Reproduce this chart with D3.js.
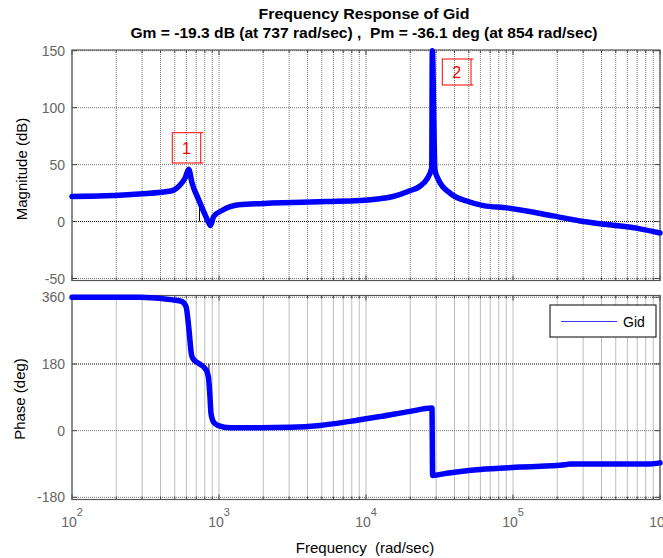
<!DOCTYPE html>
<html><head><meta charset="utf-8">
<script src="https://cdn.jsdelivr.net/npm/d3@7"></script>
<style>
html,body{margin:0;padding:0;background:#fff;}
svg{display:block;font-family:"Liberation Sans",Arial,sans-serif;}
text{white-space:pre;}
</style></head>
<body><svg id="c" width="663" height="558"></svg>
<script>
// ---- data ----
const magFreq = [100,168,286,479,532,590,622,655,728,803,859,875,920,1048,1361,2295,3187,5430,9110,15270,19900,23290,25880,28000,28250,29460,31020,37260,48400,62800,91000,187000,285700,435700,731000,1000000];
const magDb   = [22,22.6,24.2,27,30.9,38.5,46,34,19,6,-2,-3.5,4.4,9.7,14.7,16.2,16.8,17.6,18.5,22,27,31,37,47,150,45,37,25,18,14,12,5,0.5,-2.6,-6.4,-10];
const phFreq = [100,290,486,557,597,625,650,669,723,803,835,850,868,882,915,989,1188,1900,3040,4870,7780,12450,19900,28100,28400,35580,59700,111600,225900,244300,855000,1000000];
const phDeg  = [360,360,353,349,335,272,205,193,182,168,155,140,92,47,24,13.5,8,8,9,14,25,38,52,61,-121,-115,-105,-98.5,-92,-90,-90,-87];
const magTicks = [150,100,50,0,-50];
const phTicks = [360,180,0,-180];
const xDecades = [2,3,4,5,6];
const gmFreq = 737, gmDb = 19.3;
const pmFreq = 854, pmPhase = 143.9;
const titleLines = ["Frequency Response of Gid","Gm = -19.3 dB (at 737 rad/sec) ,  Pm = -36.1 deg (at 854 rad/sec)"];
const annotations = [{label:"1", f:[481,751], db:[51.4,78]}, {label:"2", f:[33040,51800], db:[119.9,142.7]}];
const legendLabel = "Gid";

// ---- layout ----
const svg = d3.select("#c");
const L = 72, R = 660;
const x = d3.scaleLog().domain([1e2,1e6]).range([L,R]);
const yM = d3.scaleLinear().domain([-50,150]).range([278.5,50.7]);
const yP = d3.scaleLinear().domain([-180,360]).range([497.3,297.3]);
const panels = [
  {y:yM, top:50, bot:280.5, ticks:magTicks, dark:0},
  {y:yP, top:295.5, bot:499.5, ticks:phTicks, dark:180}
];
const gridF = [];
for (let k=2;k<6;k++) for (let m=1;m<10;m++) gridF.push(m*Math.pow(10,k));
gridF.push(1e6);

panels.forEach(p=>{
  const g = svg.append("g");
  g.selectAll(".vg").data(gridF).join("line")
    .attr("x1",d=>x(d)).attr("x2",d=>x(d)).attr("y1",p.top).attr("y2",p.bot)
    .attr("stroke","#7a7a7a").attr("stroke-width",1).attr("stroke-dasharray","1,1");
  g.selectAll(".hg").data(p.ticks).join("line")
    .attr("x1",L).attr("x2",R).attr("y1",d=>p.y(d)).attr("y2",d=>p.y(d))
    .attr("stroke",d=>d===p.dark?"#000":"#7a7a7a").attr("stroke-width",1).attr("stroke-dasharray","1,1");
  g.selectAll(".tt").data(gridF).join("line")
    .attr("x1",d=>x(d)).attr("x2",d=>x(d)).attr("y1",p.top)
    .attr("y2",d=>p.top+(Math.abs(Math.log10(d)%1)<1e-9?5:3)).attr("stroke","#444");
  g.selectAll(".tb").data(gridF).join("line")
    .attr("x1",d=>x(d)).attr("x2",d=>x(d)).attr("y1",p.bot)
    .attr("y2",d=>p.bot-(Math.abs(Math.log10(d)%1)<1e-9?5:3)).attr("stroke","#444");
  g.selectAll(".tl").data(p.ticks).join("line")
    .attr("x1",L).attr("x2",L+5).attr("y1",d=>p.y(d)).attr("y2",d=>p.y(d)).attr("stroke","#444");
  g.selectAll(".tr").data(p.ticks).join("line")
    .attr("x1",R).attr("x2",R-5).attr("y1",d=>p.y(d)).attr("y2",d=>p.y(d)).attr("stroke","#444");
  g.append("rect").attr("x",L).attr("y",p.top).attr("width",R-L).attr("height",p.bot-p.top)
    .attr("fill","none").attr("stroke","#555").attr("stroke-width",1.2);
  g.selectAll(".yl").data(p.ticks).join("text")
    .attr("x",65).attr("y",d=>p.y(d)+5).attr("text-anchor","end")
    .attr("font-size",14).attr("fill","#666").text(d=>d);
});

// x tick labels
xDecades.forEach(k=>{
  const t = svg.append("text").attr("x",x(Math.pow(10,k))).attr("y",527)
    .attr("text-anchor","middle").attr("font-size",14).attr("fill","#666");
  t.append("tspan").text("10");
  t.append("tspan").attr("dy",-11).attr("font-size",11).text(k);
});

// margin lines
svg.append("line").attr("x1",x(gmFreq)).attr("x2",x(gmFreq)).attr("y1",yM(0)).attr("y2",yM(gmDb))
  .attr("stroke","#000").attr("stroke-width",1);
svg.append("line").attr("x1",x(pmFreq)).attr("x2",x(pmFreq)).attr("y1",yP(180)).attr("y2",yP(pmPhase))
  .attr("stroke","#000").attr("stroke-width",1);

// curves
const magData = magFreq.map((f,i)=>[f,magDb[i]]);
const phData = phFreq.map((f,i)=>[f,phDeg[i]]);
svg.append("path").datum(magData)
  .attr("d",d3.line().x(d=>x(d[0])).y(d=>yM(d[1])).curve(d3.curveMonotoneX))
  .attr("fill","none").attr("stroke","#0000ff").attr("stroke-width",5.5)
  .attr("stroke-linejoin","round").attr("stroke-linecap","round");
svg.append("path").datum(phData)
  .attr("d",d3.line().x(d=>x(d[0])).y(d=>yP(d[1])).curve(d3.curveMonotoneX))
  .attr("fill","none").attr("stroke","#0000ff").attr("stroke-width",5.5)
  .attr("stroke-linejoin","round").attr("stroke-linecap","round");

// annotations
annotations.forEach(a=>{
  const x0=x(a.f[0]), x1=x(a.f[1]), y0=yM(a.db[1]), y1=yM(a.db[0]);
  const g=svg.append("g").attr("stroke","#ff0000").attr("fill","none");
  g.append("rect").attr("x",x0).attr("y",y0).attr("width",x1-x0).attr("height",y1-y0);
  g.append("line").attr("x1",x1).attr("x2",x1+2.5).attr("y1",y0).attr("y2",y0);
  g.append("line").attr("x1",x1).attr("x2",x1+2.5).attr("y1",y1).attr("y2",y1);
  svg.append("text").attr("x",(x0+x1)/2).attr("y",(y0+y1)/2+6).attr("text-anchor","middle")
    .attr("font-size",16).attr("fill","#ff0000").text(a.label);
});

// legend
svg.append("rect").attr("x",550).attr("y",305).attr("width",106).attr("height",32)
  .attr("fill","#fff").attr("stroke","#000").attr("stroke-width",1);
svg.append("line").attr("x1",561).attr("x2",617).attr("y1",321.5).attr("y2",321.5)
  .attr("stroke","#3a3aff").attr("stroke-width",1.2);
svg.append("text").attr("x",623).attr("y",327).attr("font-size",14).attr("fill","#000").text(legendLabel);

// titles
svg.append("text").attr("x",364).attr("y",19).attr("text-anchor","middle").attr("font-size",14)
  .attr("font-weight","bold").attr("textLength",211).attr("lengthAdjust","spacingAndGlyphs").text(titleLines[0]);
svg.append("text").attr("x",364).attr("y",38).attr("text-anchor","middle").attr("font-size",14)
  .attr("font-weight","bold").attr("textLength",467).attr("lengthAdjust","spacingAndGlyphs").text(titleLines[1]);

// axis labels
svg.append("text").attr("transform","translate(27,169) rotate(-90)").attr("text-anchor","middle")
  .attr("font-size",15).text("Magnitude (dB)");
svg.append("text").attr("transform","translate(25,399) rotate(-90)").attr("text-anchor","middle")
  .attr("font-size",15).text("Phase (deg)");
svg.append("text").attr("x",365).attr("y",553).attr("text-anchor","middle")
  .attr("font-size",15).text("Frequency  (rad/sec)");
</script></body></html>
